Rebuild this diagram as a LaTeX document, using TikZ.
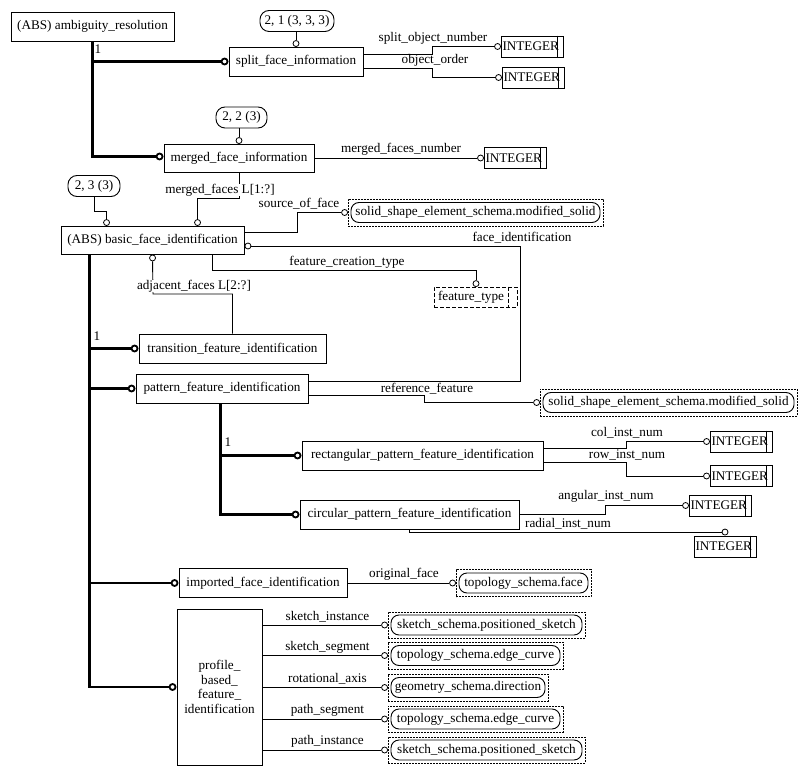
\documentclass[tikz,border=0pt]{standalone}
\usepackage{fontspec}
\setmainfont{Liberation Serif}
\usetikzlibrary{calc}
\begin{document}
\begin{tikzpicture}[x=1pt,y=-1pt,
  every node/.style={font=\fontsize{13.2}{14.5}\selectfont},
  ent/.style={draw, line width=0.9pt, inner sep=0pt, minimum height=29pt},
  pg/.style={draw, line width=0.9pt, rounded corners=9pt, inner sep=0pt, minimum height=21pt},
  intb/.style={draw, line width=0.9pt, inner xsep=1.5pt, inner ysep=0pt, text width=59pt, align=left, minimum height=21pt},
  ext/.style={draw, dash pattern=on 2pt off 1pt, line width=0.8pt, inner sep=0pt, minimum height=27pt},
  pill/.style={draw, line width=0.9pt, rounded corners=8pt, inner sep=0pt, minimum height=20pt},
  oc/.style={circle, draw, fill=white, inner sep=0pt, minimum size=6pt, line width=0.8pt},
  toc/.style={circle, draw, fill=white, inner sep=0pt, minimum size=6pt, line width=1.8pt},
  ln/.style={line width=0.9pt},
  tk/.style={line width=2.4pt},
  lbl/.style={inner sep=0pt, fill=white},
]
\fill[white] (0,0) rectangle (805,775);
\useasboundingbox (0,0) rectangle (805,775);

% entities
\node[ent, minimum width=163pt] (amb) at (92.5,26.5) {(ABS) ambiguity\_resolution};
\node[ent, minimum width=134pt] (split) at (296,61.5) {split\_face\_information};
\node[ent, minimum width=150pt, minimum height=28pt] (merged) at (239,158) {merged\_face\_information};
\node[ent, minimum width=183pt, minimum height=28pt] (basic) at (152.5,240) {(ABS) basic\_face\_identification};
\node[ent, minimum width=187pt] (trans) at (232.5,348.5) {transition\_feature\_identification};
\node[ent, minimum width=172pt] (pattern) at (222,388.5) {pattern\_feature\_identification};
\node[ent, minimum width=241pt] (rect) at (422.5,455.5) {rectangular\_pattern\_feature\_identification};
\node[ent, minimum width=219pt] (circ) at (409.5,514.5) {circular\_pattern\_feature\_identification};
\node[ent, minimum width=168pt] (imp) at (263,583) {imported\_face\_identification};
\node[ent, minimum width=85pt, minimum height=156pt, align=center] (prof) at (219.5,687) {profile\_\\based\_\\feature\_\\identification};

% page references
\node[pg, minimum width=74pt] (p1) at (297,21) {2, 1 (3, 3, 3)};
\node[pg, minimum width=51pt] (p2) at (241.5,117.5) {2, 2 (3)};
\node[pg, minimum width=52pt] (p3) at (94,186) {2, 3 (3)};

% INTEGER boxes
\foreach \n/\x/\y in {i1/532/46.5, i2/533/77.5, i3/515/158, i4/741/441.5, i5/741/476, i6/720/505.5, i7/725/546.5}{
  \node[intb] (\n) at (\x,\y) {INTEGER};
  \draw[line width=0.9pt] ([xshift=-6pt]\n.north east) -- ([xshift=-6pt]\n.south east);
}

% external references
\node[ext, minimum width=255pt] (sof) at (475.5,212.5) {};
\node[pill, minimum width=249pt] at (sof) {solid\_shape\_element\_schema.modified\_solid};
\node[ext, minimum width=257pt] (ref) at (668.5,402.5) {};
\node[pill, minimum width=251pt] at (ref) {solid\_shape\_element\_schema.modified\_solid};
\node[ext, minimum width=135pt] (face) at (523.5,583) {};
\node[pill, minimum width=129pt] at (face) {topology\_schema.face};
\node[ext, minimum width=197pt, minimum height=26pt] (sk1) at (486.5,625) {};
\node[pill, minimum width=191pt] at (sk1) {sketch\_schema.positioned\_sketch};
\node[ext, minimum width=175pt] (seg1) at (475.5,655.5) {};
\node[pill, minimum width=169pt] at (seg1) {topology\_schema.edge\_curve};
\node[ext, minimum width=160pt] (dir) at (468,687.5) {};
\node[pill, minimum width=154pt] at (dir) {geometry\_schema.direction};
\node[ext, minimum width=175pt, minimum height=26pt] (seg2) at (475.5,719) {};
\node[pill, minimum width=169pt] at (seg2) {topology\_schema.edge\_curve};
\node[ext, minimum width=197pt, minimum height=26pt] (sk2) at (486.5,750) {};
\node[pill, minimum width=191pt] at (sk2) {sketch\_schema.positioned\_sketch};

% feature_type (referenced defined type)
\node[draw, dash pattern=on 4pt off 2pt, line width=0.8pt, inner sep=0pt, minimum width=83pt, minimum height=20pt] (ft) at (475.5,297) {};
\draw[dash pattern=on 4pt off 2pt, line width=0.8pt] ([xshift=-9pt]ft.north east) -- ([xshift=-9pt]ft.south east);
\node[inner sep=0pt] at (471,297) {feature\_type};

% ---- supertype trees (thick)
\node[toc] (ts1) at ($(split.west)+(-4,0)$) {};
\node[toc] (tm1) at ($(merged.west)+(-4,-1.5)$) {};
\draw[tk] (amb.south) |- (ts1);
\draw[tk] (amb.south) |- (tm1);
\node[lbl] at (98,49) {1};

\coordinate (bt) at ($(basic.south west)+(29,0)$);
\node[toc] (tt1) at ($(trans.west)+(-4,0)$) {};
\node[toc] (tt2) at ($(pattern.west)+(-4,0)$) {};
\node[toc] (tt3) at ($(imp.west)+(-4,0)$) {};
\node[toc] (tt4) at ($(prof.west)+(-4,0)$) {};
\draw[tk] (bt) |- (tt1);
\draw[tk] (bt) |- (tt2);
\draw[tk] (bt) |- (tt3);
\draw[tk] (bt) |- (tt4);
\node[lbl] at (97,336) {1};

\coordinate (pt) at ($(pattern.south west)+(85,0)$);
\node[toc] (tr1) at ($(rect.west)+(-4,0)$) {};
\node[toc] (tr2) at ($(circ.west)+(-4,0)$) {};
\draw[tk] (pt) |- (tr1);
\draw[tk] (pt) |- (tr2);
\node[lbl] at (228,442) {1};

% ---- page reference links
\node[oc] (cp1) at ($(split.north)+(0,-3)$) {};
\draw[ln] (cp1 |- p1.south) -- (cp1);
\node[oc] (cp2) at ($(merged.north)+(0,-3)$) {};
\draw[ln] (cp2 |- p2.south) -- (cp2);
\node[oc] (cp3) at ($(basic.north west)+(46,-3)$) {};
\draw[ln] (p3.south) -- ++(0,15) -| (cp3);

% ---- split_face_information attributes
\node[oc] (c_son) at ($(i1.west)+(-3,0)$) {};
\draw[ln] ($(split.east)+(0,-7.5)$) -- (432,54) |- (c_son);
\node[lbl] at (433,38) {split\_object\_number};
\node[oc] (c_oo) at ($(i2.west)+(-3,0)$) {};
\draw[ln] ($(split.east)+(0,6.5)$) -- (432,68) |- (c_oo);
\node[lbl] at (435,60.5) {object\_order};

% ---- merged_face_information attributes
\node[oc] (c_mfn) at ($(i3.west)+(-3,0)$) {};
\draw[ln] (merged.east |- c_mfn) -- (c_mfn);
\node[lbl] at (401,149) {merged\_faces\_number};
\node[oc] (c_mf) at ($(basic.north west)+(137,-3)$) {};
\draw[ln] (merged.south) -- ++(0,26) -| (c_mf);
\node[lbl] at (220,190) {merged\_faces L[1:?]};

% ---- basic_face_identification attributes
\node[oc] (c_sof) at ($(sof.west)+(-3,0)$) {};
\draw[ln] ($(basic.east)+(0,-8)$) -- (297,232) |- (c_sof);
\node[lbl] at (299,204) {source\_of\_face};

\node[oc] (c_fct) at ($(ft.north)+(0.5,-3)$) {};
\draw[ln] ($(basic.south west)+(152,0)$) -- ++(0,16) -| (c_fct);
\node[lbl] at (347,262) {feature\_creation\_type};

% ---- transition adjacent faces
\node[oc] (c_af) at ($(basic.south west)+(92,3.5)$) {};
\draw[ln] (c_af.south) -- (153,294) -| (trans.north);
\node[lbl] at (194,286) {adjacent\_faces L[2:?]};

% ---- pattern_feature_identification attributes
\node[oc] (c_fi) at ($(basic.east)+(3.5,6)$) {};
\draw[ln] ($(pattern.east)+(0,-7.5)$) -| (520,246) -- (c_fi);
\node[lbl] at (522,238) {face\_identification};
\node[oc] (c_rf) at ($(ref.west)+(-3,0)$) {};
\draw[ln] ($(pattern.east)+(0,6.5)$) -- (424,395) |- (c_rf);
\node[lbl] at (427,388.5) {reference\_feature};

% ---- rectangular pattern
\node[oc] (c_col) at ($(i4.west)+(-3,0)$) {};
\draw[ln] ($(rect.east)+(0,-7.5)$) -- (626,448) |- (c_col);
\node[lbl] at (627,433) {col\_inst\_num};
\node[oc] (c_row) at ($(i5.west)+(-3,0)$) {};
\draw[ln] ($(rect.east)+(0,6.5)$) -- (626,462) |- (c_row);
\node[lbl] at (627,454.5) {row\_inst\_num};

% ---- circular pattern
\node[oc] (c_ang) at ($(i6.west)+(-3,0)$) {};
\draw[ln] (circ.east) -- (605,514.5) |- (c_ang);
\node[lbl] at (606,496) {angular\_inst\_num};
\node[oc] (c_rad) at ($(i7.north)+(0,-3.5)$) {};
\draw[ln] (circ.south) |- (c_rad);
\node[lbl] at (568,524) {radial\_inst\_num};

% ---- imported
\node[oc] (c_of) at ($(face.west)+(-3,0)$) {};
\draw[ln] (imp.east) -- (c_of);
\node[lbl] at (404,574) {original\_face};

% ---- profile based
\foreach \t/\txt in {sk1/sketch\_instance, seg1/sketch\_segment, dir/rotational\_axis, seg2/path\_segment, sk2/path\_instance}{
  \node[oc] (c_\t) at ($(\t.west)+(-3,0)$) {};
  \draw[ln] (prof.east |- c_\t) -- (c_\t);
  \node[lbl] at ($(prof.east |- c_\t)+(65,-8.5)$) {\txt};
}
\end{tikzpicture}
\end{document}
